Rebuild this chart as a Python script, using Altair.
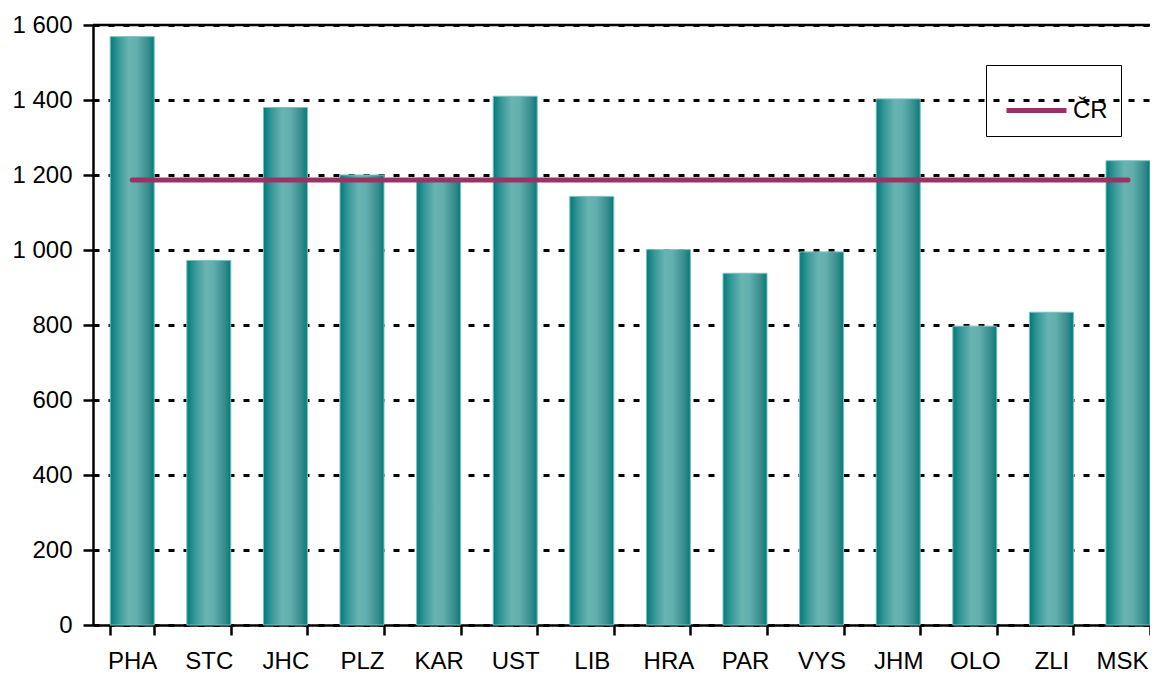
import altair as alt
import pandas as pd

regions = ["PHA", "STC", "JHC", "PLZ", "KAR", "UST", "LIB", "HRA", "PAR", "VYS", "JHM", "OLO", "ZLI", "MSK"]
values = [1569, 972, 1380, 1200, 1192, 1410, 1143, 1001, 938, 995, 1403, 797, 834, 1238]
cr_value = 1187
cr_label = "ČR"
y_ticks = [0, 200, 400, 600, 800, 1000, 1200, 1400, 1600]

df = pd.DataFrame({"region": regions, "value": values})
df_line = pd.DataFrame({"region": regions, "value": [cr_value] * len(regions), "series": [cr_label] * len(regions)})
df_top = pd.DataFrame({"y": [1600]})

FONT = "Liberation Sans Narrow, Arial Narrow, Liberation Sans, Arial"
FS = 24

x_scale = alt.Scale(paddingInner=0.4256, paddingOuter=0.1123, align=1)

x_enc = alt.X(
    "region:N",
    sort=regions,
    scale=x_scale,
    axis=alt.Axis(
        title=None, labelAngle=0, tickBand="extent", tickSize=10, tickWidth=2.5,
        tickColor="black", domainColor="black", domainWidth=2.5,
        labelFont=FONT, labelFontSize=FS, labelColor="black", labelPadding=14,
        labelOffset={"condition": {"test": "datum.value === 'MSK'", "value": -6}, "value": 0},
        grid=False,
    ),
)

y_scale = alt.Scale(domain=[0, 1600], nice=False)

bars = alt.Chart(df).mark_bar(
    fill=alt.Gradient(
        gradient="linear",
        stops=[
            alt.GradientStop(color="#007a7a", offset=0),
            alt.GradientStop(color="#359797", offset=0.18),
            alt.GradientStop(color="#67b4b3", offset=0.42),
            alt.GradientStop(color="#62afae", offset=0.6),
            alt.GradientStop(color="#388c8c", offset=0.86),
            alt.GradientStop(color="#007c7c", offset=1),
        ],
        x1=0, x2=1, y1=0, y2=0,
    ),
    stroke="#7cc0bf",
    strokeWidth=1,
).encode(
    x=x_enc,
    y=alt.Y(
        "value:Q",
        scale=y_scale,
        axis=alt.Axis(
            title=None, values=y_ticks, tickSize=10, tickWidth=2.5, tickColor="black",
            domainColor="black", domainWidth=2.5,
            labelFont=FONT, labelFontSize=FS, labelColor="black", labelPadding=11,
            labelExpr="replace(format(datum.value, ','), ',', ' ')",
            grid=True, gridColor="black", gridDash=[6, 9], gridWidth=3,
        ),
    ),
)

top_rule = alt.Chart(df_top).mark_rule(color="black", strokeWidth=2.5).encode(
    y=alt.Y("y:Q", scale=y_scale),
)

line = alt.Chart(df_line).mark_line(strokeWidth=5, strokeCap="round").encode(
    x=alt.X("region:N", sort=regions),
    y=alt.Y("value:Q", scale=y_scale),
    color=alt.Color(
        "series:N",
        scale=alt.Scale(domain=[cr_label], range=["#993366"]),
        legend=alt.Legend(
            title=None, orient="none", legendX=893, legendY=40,
            symbolType="stroke", symbolSize=3600, symbolStrokeWidth=5,
            symbolOffset=5,
            labelFont=FONT, labelFontSize=FS, labelColor="black",
            strokeColor="black", padding=13, labelOffset=4,
        ),
    ),
)

chart = alt.layer(bars, top_rule, line).properties(
    width=1057,
    height=600,
    autosize=alt.AutoSizeParams(type="none"),
    padding={"left": 85, "top": 17, "right": 0, "bottom": 49},
).configure_view(stroke=None).configure(background="white")

chart.save("out.html", embed_options={"renderer": "svg", "actions": False})
